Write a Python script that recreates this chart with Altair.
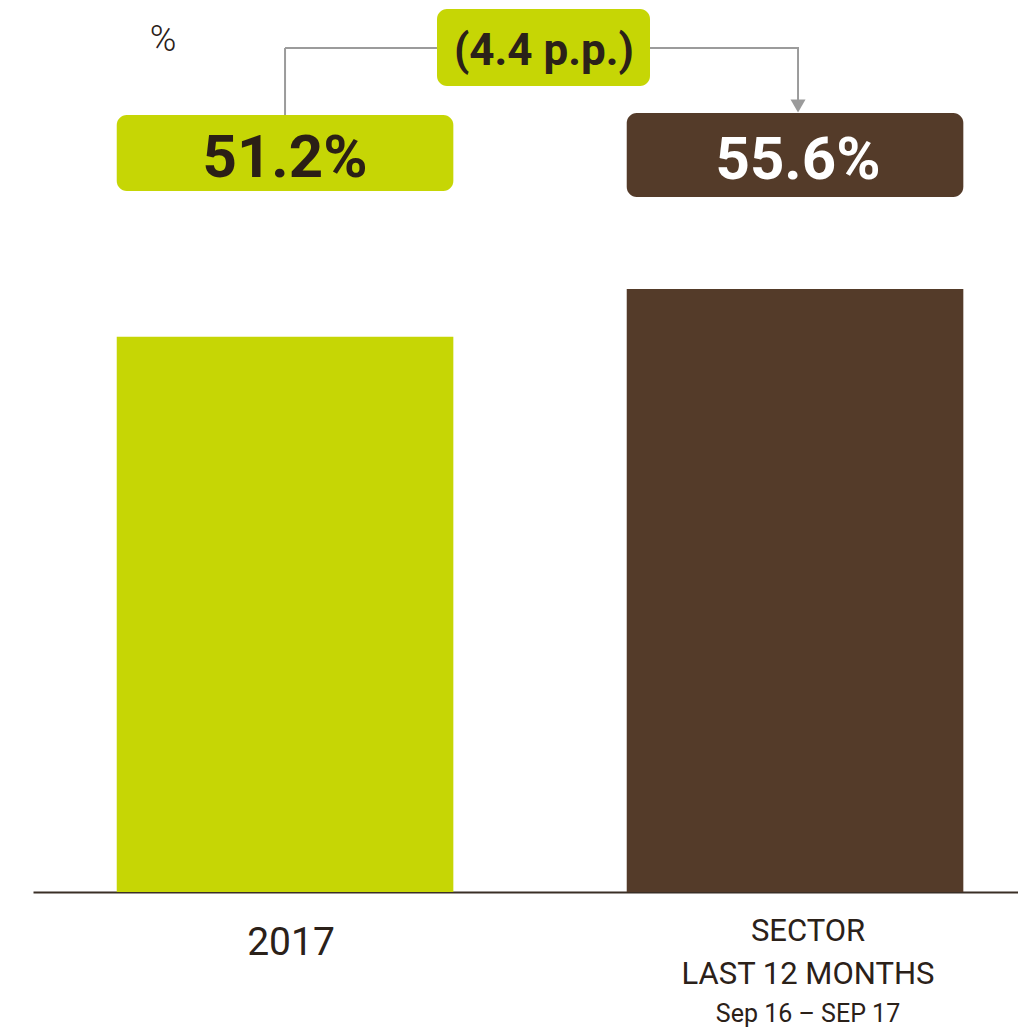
import altair as alt
import pandas as pd

# ---- data ----
categories = ["2017", "SECTOR"]
values = [51.2, 55.6]
value_labels = ["51.2%", "55.6%"]
bar_colors = ["#c6d605", "#543b29"]
value_text_colors = ["#2b1f16", "#ffffff"]
diff_label = ["(4.4 p.p.)"]
unit_label = ["%"]
axis_label_cats = ["2017", "SECTOR", "SECTOR", "SECTOR"]
axis_label_texts = ["2017", "SECTOR", "LAST 12 MONTHS", "Sep 16 – SEP 17"]
axis_label_lines = [0, 0, 1, 2]

FONT = "Roboto"
DARK = "#2b2119"
GRAY = "#9b9b9b"
GREEN = bar_colors[0]

df = pd.DataFrame({
    "cat": categories,
    "value": values,
    "label": value_labels,
    "color": bar_colors,
    "tcolor": value_text_colors,
})
df_diff = pd.DataFrame({"t": diff_label})
df_unit = pd.DataFrame({"t": unit_label})
df_lab = pd.DataFrame({"cat": axis_label_cats, "text": axis_label_texts, "line": axis_label_lines})

x_scale = alt.Scale(domain=categories, paddingInner=0.34, paddingOuter=0.1357, align=0.605)
x_enc = alt.X("cat:N", scale=x_scale,
              axis=alt.Axis(labels=False, ticks=False, title=None, grid=False,
                            domainColor="#3a2f26", domainWidth=2))
y_enc = alt.Y("value:Q", scale=alt.Scale(domain=[0, 81.5]), axis=None)

base = alt.Chart(df)

bars = base.mark_bar().encode(
    x=x_enc, y=y_enc, color=alt.Color("color:N", scale=None)
)

# value label boxes
box1 = base.transform_filter(alt.datum.cat == "2017").mark_bar(cornerRadius=10).encode(
    x=x_enc, y=alt.value(107), y2=alt.value(183), color=alt.Color("color:N", scale=None)
)
box2 = base.transform_filter(alt.datum.cat == "SECTOR").mark_bar(cornerRadius=10).encode(
    x=x_enc, y=alt.value(105), y2=alt.value(189), color=alt.Color("color:N", scale=None)
)
val1 = base.transform_filter(alt.datum.cat == "2017").mark_text(
    font=FONT, fontSize=60, fontWeight="bold", baseline="middle", align="center"
).encode(x=x_enc, y=alt.value(151), text="label:N", color=alt.Color("tcolor:N", scale=None))
val2 = base.transform_filter(alt.datum.cat == "SECTOR").mark_text(
    font=FONT, fontSize=60, fontWeight="bold", baseline="middle", align="center", xOffset=3
).encode(x=x_enc, y=alt.value(153), text="label:N", color=alt.Color("tcolor:N", scale=None))

# difference box + connectors
diff_box = alt.Chart(df_diff).mark_rect(cornerRadius=10, color=GREEN).encode(
    x=alt.value(404), x2=alt.value(617), y=alt.value(1), y2=alt.value(78)
)
diff_text = alt.Chart(df_diff).mark_text(
    font=FONT, fontSize=44, fontWeight="bold", color=DARK, baseline="middle", align="center"
).encode(x=alt.value(511), y=alt.value(44), text="t:N")

left_v = base.transform_filter(alt.datum.cat == "2017").mark_rule(color=GRAY, strokeWidth=2).encode(
    x=x_enc, y=alt.value(40), y2=alt.value(107)
)
left_h = base.transform_filter(alt.datum.cat == "2017").mark_rule(color=GRAY, strokeWidth=2).encode(
    x=x_enc, x2=alt.value(404), y=alt.value(40)
)
right_h = base.transform_filter(alt.datum.cat == "SECTOR").mark_rule(
    color=GRAY, strokeWidth=2, xOffset=3).encode(
    x=x_enc, x2=alt.value(617), y=alt.value(40)
)
right_v = base.transform_filter(alt.datum.cat == "SECTOR").mark_rule(
    color=GRAY, strokeWidth=2, xOffset=3).encode(
    x=x_enc, y=alt.value(39), y2=alt.value(93)
)
arrow = base.transform_filter(alt.datum.cat == "SECTOR").mark_point(
    shape="triangle-down", filled=True, size=225, color=GRAY, opacity=1, xOffset=3
).encode(x=x_enc, y=alt.value(98))

# unit label
unit = alt.Chart(df_unit).mark_text(
    font=FONT, fontSize=36, fontWeight=300, color=DARK, baseline="middle", align="center"
).encode(x=alt.value(130), y=alt.value(32), text="t:N")

# category labels under the axis
labbase = alt.Chart(df_lab)
lab2017 = labbase.transform_filter((alt.datum.cat == "2017")).mark_text(
    font=FONT, fontSize=39, color=DARK, baseline="middle", align="center", dx=6
).encode(x=x_enc, y=alt.value(935), text="text:N")
lab_s0 = labbase.transform_filter((alt.datum.cat == "SECTOR") & (alt.datum.line == 0)).mark_text(
    font=FONT, fontSize=31, color=DARK, baseline="middle", align="center", dx=13
).encode(x=x_enc, y=alt.value(924), text="text:N")
lab_s1 = labbase.transform_filter((alt.datum.cat == "SECTOR") & (alt.datum.line == 1)).mark_text(
    font=FONT, fontSize=31, color=DARK, baseline="middle", align="center", dx=13
).encode(x=x_enc, y=alt.value(967), text="text:N")
lab_s2 = labbase.transform_filter((alt.datum.cat == "SECTOR") & (alt.datum.line == 2)).mark_text(
    font=FONT, fontSize=25, color=DARK, baseline="middle", align="center", dx=13
).encode(x=x_enc, y=alt.value(1006), text="text:N")

chart = alt.layer(
    bars, box1, box2, val1, val2,
    left_v, left_h, right_h, right_v, arrow,
    diff_box, diff_text, unit,
    lab2017, lab_s0, lab_s1, lab_s2,
).properties(
    width=985, height=884,
    padding={"left": 25, "top": 0, "right": 0, "bottom": 136},
    autosize=alt.AutoSizeParams(type="none"),
    background="#ffffff",
).configure_view(stroke=None)

chart.save("out.html", embed_options={"renderer": "svg", "actions": False})
